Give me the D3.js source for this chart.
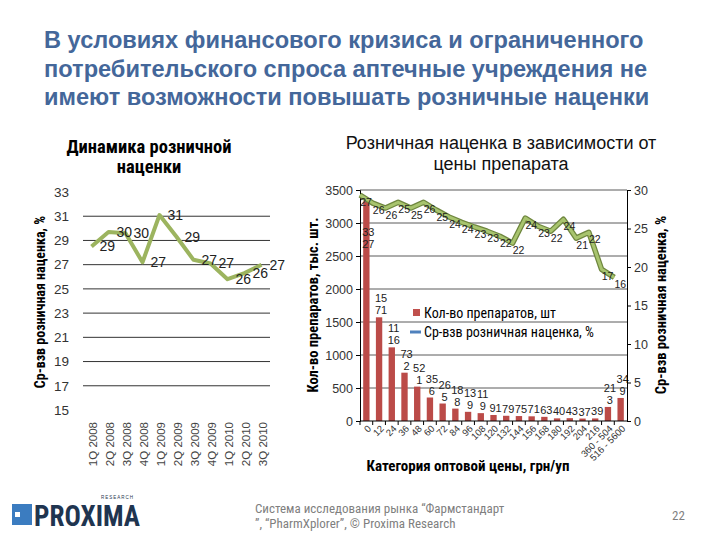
<!DOCTYPE html>
<html>
<head>
<meta charset="utf-8">
<script src="https://cdn.jsdelivr.net/npm/d3@7"></script>
<style>
  body { margin: 0; background: #fff; }
  svg { font-family: "Liberation Sans", Arial, sans-serif; }
  .narrow { font-family: "Liberation Sans Narrow", "Roboto Condensed", "Liberation Sans", sans-serif; }
</style>
</head>
<body>
<svg id="chart" width="720" height="540"></svg>
<script>
// left chart: markup by quarter
const quarters = ["1Q 2008","2Q 2008","3Q 2008","4Q 2008","1Q 2009","2Q 2009","3Q 2009","4Q 2009","1Q 2010","2Q 2010","3Q 2010"];
const quarterMarkup = [28.5, 29.7, 29.6, 27.2, 31.1, 29.3, 27.4, 27.1, 25.8, 26.3, 27.0];
const quarterTicks = [15,17,19,21,23,25,27,29,31,33];

// right chart: by wholesale price category
const priceCats = ["0","12","24","36","48","60","72","84","96","108","120","132","144","156","168","180","192","204","216","360 - 504","516 - 5600"];
const drugCounts = [3327,1571,1116,732,521,356,265,188,139,119,91,79,75,71,63,40,43,37,39,213,349];
const priceMarkup = [29.35,28.3,27.65,28.4,27.65,28.4,27.4,26.5,25.8,25.2,24.65,24.0,23.1,26.35,25.3,24.65,26.2,23.75,24.5,19.7,18.65];
const priceMarkupLabels = ["27","26","26","25","25","26","25","24","24","23","23","22","22","24","23","22","24","21","22","17","16"];
const countTicks = [0,500,1000,1500,2000,2500,3000,3500];
const markupTicks = [0,5,10,15,20,25,30];

const titleLines = ["В условиях финансового кризиса и ограниченного",
                    "потребительского спроса аптечные учреждения не",
                    "имеют возможности повышать розничные наценки"];

const svg = d3.select("#chart");

// main title
svg.append("g").selectAll("text")
  .data(titleLines)
  .join("text")
    .attr("x", 44)
    .attr("y", (d, i) => 48 + i * 28.5)
    .attr("font-size", 23.6)
    .attr("font-weight", "bold")
    .attr("fill", "#44679a")
    .text(d => d);

// ---------- left chart ----------
const xQ = d3.scaleBand().domain(quarters).range([83, 270]);
const yQ = d3.scaleLinear().domain([15, 33]).range([410, 192]);

const left = svg.append("g");

left.append("g").attr("class", "narrow")
  .selectAll("text")
  .data(["Динамика розничной", "наценки"])
  .join("text")
    .attr("x", 149)
    .attr("y", (d, i) => 153 + i * 20)
    .attr("text-anchor", "middle")
    .attr("font-size", 18.5)
    .attr("font-weight", "bold")
    .text(d => d);

// grid
left.append("g")
  .selectAll("line")
  .data(quarterTicks.filter(t => t > 15 && t < 33))
  .join("line")
    .attr("x1", 83).attr("x2", 270)
    .attr("y1", d => yQ(d)).attr("y2", d => yQ(d))
    .attr("stroke", "#333").attr("stroke-width", 1);

const yQAxis = d3.axisLeft(yQ).tickValues(quarterTicks).tickSize(0).tickPadding(0);
left.append("g")
  .attr("transform", "translate(69,0)")
  .call(yQAxis)
  .call(g => g.select(".domain").remove())
  .selectAll("text")
    .attr("font-size", 13.5)
    .attr("fill", "#333")
    .attr("font-family", "Liberation Sans, Arial, sans-serif");

left.append("g")
  .selectAll("text")
  .data(quarters)
  .join("text")
    .attr("transform", d => "translate(" + (xQ(d) + xQ.bandwidth() / 2 + 1) + ",422) rotate(-90)")
    .attr("text-anchor", "end")
    .attr("dy", "0.35em")
    .attr("font-size", 11.5)
    .attr("fill", "#444")
    .text(d => d);

left.append("text")
  .attr("class", "narrow")
  .attr("transform", "translate(45,302) rotate(-90)")
  .attr("text-anchor", "middle")
  .attr("font-size", 14)
  .attr("font-weight", "bold")
  .text("Ср-взв розничная наценка, %");

const qLine = d3.line()
  .x((d, i) => xQ(quarters[i]) + xQ.bandwidth() / 2)
  .y(d => yQ(d));

left.append("path")
  .datum(quarterMarkup)
  .attr("fill", "none")
  .attr("stroke", "#9cb45f")
  .attr("stroke-width", 4)
  .attr("stroke-linejoin", "round")
  .attr("d", qLine);

left.append("g")
  .selectAll("text")
  .data(quarterMarkup)
  .join("text")
    .attr("x", (d, i) => xQ(quarters[i]) + xQ.bandwidth() / 2 + 8)
    .attr("y", d => yQ(d))
    .attr("dy", "0.35em")
    .attr("font-size", 14)
    .attr("fill", "#222")
    .text(d => Math.round(d));

// ---------- right chart ----------
const x = d3.scaleBand().domain(priceCats).range([360, 627]).paddingInner(0.5).paddingOuter(0.25);
const xLine = d3.scalePoint().domain(priceCats).range([360, 360 + x.step() * 20]);
const yL = d3.scaleLinear().domain([0, 3500]).range([421, 190]);
const yR = d3.scaleLinear().domain([0, 30]).range([421, 190]);

const right = svg.append("g");

right.append("g")
  .selectAll("text")
  .data(["Розничная наценка в зависимости от", "цены препарата"])
  .join("text")
    .attr("x", 501)
    .attr("y", (d, i) => 149 + i * 21)
    .attr("text-anchor", "middle")
    .attr("font-size", 18)
    .attr("fill", "#111")
    .text(d => d);

// grid
right.append("g")
  .selectAll("line")
  .data(countTicks.filter(t => t > 0))
  .join("line")
    .attr("x1", 360).attr("x2", 627)
    .attr("y1", d => yL(d)).attr("y2", d => yL(d))
    .attr("stroke", "#5a5a5a").attr("stroke-width", 1);

// bars
right.append("g")
  .attr("fill", "#bb4b48")
  .selectAll("rect")
  .data(drugCounts)
  .join("rect")
    .attr("x", (d, i) => x(priceCats[i]))
    .attr("y", d => yL(d))
    .attr("width", x.bandwidth())
    .attr("height", d => yL(0) - yL(d));

// bar labels (long numbers wrap onto two lines)
const barLabels = right.append("g")
  .attr("font-size", 11)
  .attr("fill", "#222")
  .attr("text-anchor", "middle");
drugCounts.forEach((d, i) => {
  const s = String(d);
  const cx = x(priceCats[i]) + x.bandwidth() / 2 + 2;
  const base = Math.max(yL(d) - 3, yL(3000) + 25);
  if (s.length > 2) {
    barLabels.append("text").attr("x", cx).attr("y", base - 12).text(s.slice(0, 2));
    barLabels.append("text").attr("x", cx).attr("y", base).text(s.slice(2));
  } else {
    barLabels.append("text").attr("x", cx).attr("y", base).text(s);
  }
});

// axes
const axisLeft = d3.axisLeft(yL).tickValues(countTicks).tickSize(4).tickFormat(d3.format("d"));
right.append("g")
  .attr("transform", "translate(360,0)")
  .call(axisLeft)
  .call(g => g.selectAll("text").attr("font-size", 12.5).attr("fill", "#333"));

const axisRight = d3.axisRight(yR).tickValues(markupTicks).tickSize(4);
right.append("g")
  .attr("transform", "translate(627,0)")
  .call(axisRight)
  .call(g => g.selectAll("text").attr("font-size", 12.5).attr("fill", "#333"));

right.append("line")
  .attr("x1", 360).attr("x2", 627)
  .attr("y1", yL(0)).attr("y2", yL(0))
  .attr("stroke", "#000");
right.append("g")
  .selectAll("line")
  .data(priceCats)
  .join("line")
    .attr("x1", d => x(d) - (x.step() - x.bandwidth()) / 2)
    .attr("x2", d => x(d) - (x.step() - x.bandwidth()) / 2)
    .attr("y1", yL(0)).attr("y2", yL(0) + 4)
    .attr("stroke", "#000");

right.append("g")
  .selectAll("text")
  .data(priceCats)
  .join("text")
    .attr("transform", d => "translate(" + (x(d) + x.bandwidth() / 2 + 3) + ",427) rotate(-45)")
    .attr("text-anchor", "end")
    .attr("dy", "0.35em")
    .attr("font-size", 9.5)
    .attr("fill", "#333")
    .text(d => d);

// markup line
const pLine = d3.line()
  .x((d, i) => xLine(priceCats[i]))
  .y(d => yR(d));
right.append("path")
  .datum(priceMarkup)
  .attr("fill", "none")
  .attr("stroke", "#6f873f")
  .attr("stroke-width", 5.5)
  .attr("stroke-linejoin", "round")
  .attr("d", pLine);
right.append("path")
  .datum(priceMarkup)
  .attr("fill", "none")
  .attr("stroke", "#a8c46e")
  .attr("stroke-width", 3)
  .attr("stroke-linejoin", "round")
  .attr("d", pLine);

right.append("g")
  .selectAll("text")
  .data(priceMarkup)
  .join("text")
    .attr("x", (d, i) => xLine(priceCats[i]) + 6)
    .attr("y", d => yR(d) + 11)
    .attr("text-anchor", "middle")
    .attr("font-size", 10.5)
    .attr("fill", "#222")
    .text((d, i) => priceMarkupLabels[i]);

// legend
const legend = right.append("g").attr("class", "narrow").attr("font-size", 14);
legend.append("rect").attr("x", 413).attr("y", 309).attr("width", 7).attr("height", 7).attr("fill", "#c0504d");
legend.append("text").attr("x", 424).attr("y", 318).text("Кол-во препаратов, шт");
legend.append("line").attr("x1", 410).attr("x2", 421).attr("y1", 332).attr("y2", 332)
  .attr("stroke", "#4f81bd").attr("stroke-width", 3);
legend.append("text").attr("x", 424).attr("y", 337).text("Ср-взв розничная наценка, %");

// axis titles
right.append("text")
  .attr("class", "narrow")
  .attr("transform", "translate(318,305) rotate(-90)")
  .attr("text-anchor", "middle")
  .attr("font-size", 14.5)
  .attr("font-weight", "bold")
  .text("Кол-во препаратов, тыс. шт.");
right.append("text")
  .attr("class", "narrow")
  .attr("transform", "translate(666,305) rotate(-90)")
  .attr("text-anchor", "middle")
  .attr("font-size", 14.5)
  .attr("font-weight", "bold")
  .text("Ср-взв розничная наценка, %");
right.append("text")
  .attr("class", "narrow")
  .attr("x", 468).attr("y", 471)
  .attr("text-anchor", "middle")
  .attr("font-size", 15)
  .attr("font-weight", "bold")
  .text("Категория оптовой цены, грн/уп");

// ---------- footer ----------
const footer = svg.append("g");
footer.append("rect").attr("x", 12).attr("y", 504).attr("width", 20).attr("height", 21).attr("fill", "#3b7cc0");
footer.append("rect").attr("x", 15).attr("y", 512).attr("width", 5).attr("height", 5).attr("fill", "#fff");
footer.append("text")
  .attr("class", "narrow")
  .attr("x", 34).attr("y", 526)
  .attr("font-size", 29).attr("font-weight", "bold")
  .attr("fill", "#1f3550")
  .attr("textLength", 106).attr("lengthAdjust", "spacingAndGlyphs")
  .text("PROXIMA");
footer.append("text")
  .attr("x", 101).attr("y", 499)
  .attr("font-size", 4.5).attr("fill", "#1f3550")
  .attr("letter-spacing", 1)
  .text("RESEARCH");
footer.append("g").attr("class", "narrow")
  .selectAll("text")
  .data(["Система исследования рынка  “Фармстандарт", "”, “PharmXplorer”, © Proxima Research"])
  .join("text")
    .attr("x", 255)
    .attr("y", (d, i) => 513 + i * 15)
    .attr("font-size", 13)
    .attr("fill", "#7f7f7f")
    .text(d => d);
footer.append("text")
  .attr("class", "narrow")
  .attr("x", 672).attr("y", 520)
  .attr("font-size", 13)
  .attr("fill", "#7f7f7f")
  .text("22");
</script>
</body>
</html>
